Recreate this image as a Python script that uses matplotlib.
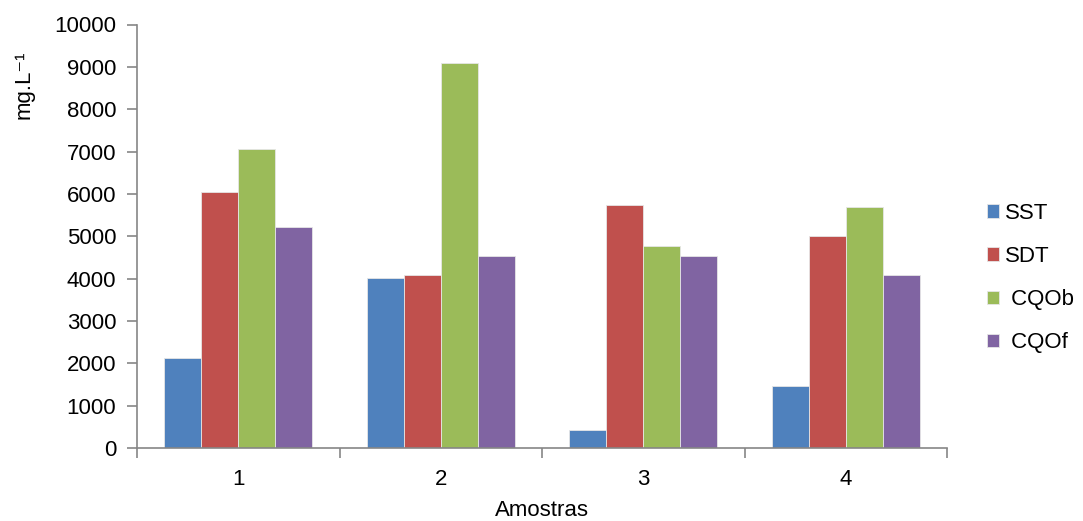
import matplotlib
matplotlib.use("Agg")
import matplotlib.pyplot as plt
import numpy as np

plt.rcParams['font.family'] = ['Liberation Sans', 'DejaVu Sans']

categories = ["1", "2", "3", "4"]
series_names = ["SST", "SDT", " CQOb", " CQOf"]
sst = [2125, 4015, 420, 1470]
sdt = [6040, 4080, 5730, 5015]
cqob = [7060, 9100, 4770, 5680]
cqof = [5220, 4545, 4545, 4090]
colors = ["#4F81BD", "#C0504D", "#9BBB59", "#8064A2"]
yticks = list(range(0, 10001, 1000))

FS = 16

fig = plt.figure(figsize=(10.83, 5.21), dpi=100)
ax = fig.add_axes([137/1083, 1 - 448/521, (947 - 137)/1083, (448 - 24.5)/521])

series = [sst, sdt, cqob, cqof]
bw = 0.1826
x = np.arange(len(categories)) + 0.5
handles = []
for i, (vals, col, name) in enumerate(zip(series, colors, series_names)):
    offs = (i - 1.5) * bw
    b = ax.bar(x + offs, vals, width=bw, color=col, edgecolor="#E6E6E6",
               linewidth=0.6, label=name, zorder=2)
    handles.append(b)

ax.set_xlim(0, len(categories))
ax.set_ylim(0, 10000)
ax.set_yticks(yticks)
ax.set_yticklabels([str(t) for t in yticks], fontsize=FS)
ax.set_xticks(np.arange(len(categories) + 1))
ax.set_xticklabels([])
ax.set_xticks(x, minor=True)
ax.set_xticklabels(categories, minor=True, fontsize=FS)
ax.tick_params(axis="x", which="minor", length=0, pad=15)
ax.tick_params(axis="x", which="major", length=7, color="#868686", width=1.2)
ax.tick_params(axis="y", length=7, color="#868686", width=1.2, pad=8)

for s in ["top", "right"]:
    ax.spines[s].set_visible(False)
for s in ["left", "bottom"]:
    ax.spines[s].set_color("#868686")
    ax.spines[s].set_linewidth(1.2)

fig.text(542/1083, 1 - 511/521, "Amostras", ha="center", va="center", fontsize=FS)
fig.text(24/1083, 1 - 85/521, "mg.L\u207b\u00b9", rotation=90, ha="center", va="center",
         fontsize=FS)

leg = ax.legend(handles=handles, loc="center left", bbox_to_anchor=(967/1083, 1 - 278/521),
                bbox_transform=fig.transFigure, frameon=False, fontsize=FS,
                handlelength=0.55, handleheight=0.55, handletextpad=0.25,
                labelspacing=1.0)

fig.savefig("out.png", dpi=100, facecolor="white")
